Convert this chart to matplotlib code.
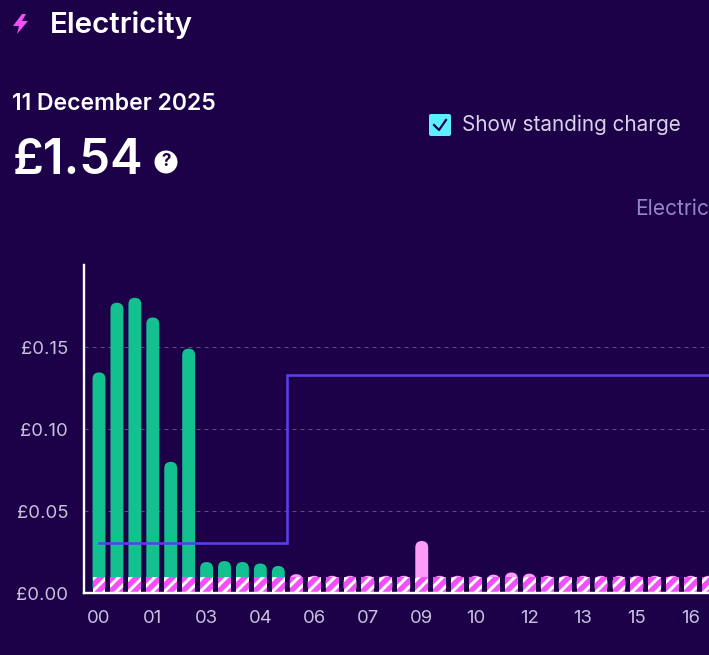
import matplotlib
matplotlib.use('Agg')
from matplotlib import pyplot as plt
from matplotlib.patches import FancyBboxPatch, Polygon, Circle

# half hourly values, 00:00 onwards
usage_cost = [0.1345, 0.177, 0.180, 0.168, 0.080, 0.149, 0.0189, 0.0195, 0.0189, 0.018, 0.0165,
              0.0115, 0.0105, 0.0105, 0.0105, 0.0105, 0.0105, 0.0105, 0.0317, 0.0105, 0.0105,
              0.0105, 0.0112, 0.0125, 0.0118, 0.0105, 0.0105, 0.0105, 0.0105, 0.0105, 0.0105,
              0.0105, 0.0105, 0.0105, 0.0105]
standing_charge = 0.0098
cheap_slots = 11
rate_x = [0, 10.5, 10.5, 35]
rate_y = [0.0305, 0.0305, 0.133, 0.133]
hour_labels = ['00', '01', '03', '04', '06', '07', '09', '10', '12', '13', '15', '16']
price_ticks = [0.0, 0.05, 0.10, 0.15]
price_labels = ['£0.00', '£0.05', '£0.10', '£0.15']

BG = '#1c0048'
GREEN = '#13c08f'
PINK = '#ff9cf8'
STRIPE = '#f050f8'
LINE = '#5840e8'
TEXT = '#ffffff'
SOFT = '#d9d2ea'
TICK = '#c9c1de'

W, H = 709, 655
plt.rcParams['font.family'] = ['Inter', 'DejaVu Sans']
plt.rcParams['hatch.linewidth'] = 3.0

fig = plt.figure(figsize=(W / 72, H / 72), dpi=72, facecolor=BG)

# chart, axes box placed in pixels
left, right, top, bottom = 84, W, 265, 593
ax = fig.add_axes([left / W, 1 - bottom / H, (right - left) / W, (bottom - top) / H], facecolor=BG)
ax.set_xlim((left - 99) / 17.93, (right - 99) / 17.93)
ax.set_ylim(0, 0.2)

ax.hlines(price_ticks[1:], *ax.get_xlim(), colors='#5f4a85', linewidth=1, linestyles=(0, (4, 4)), zorder=1)

bar_w = 0.72
aspect = 17.93 / 1640
for i, v in enumerate(usage_cost):
    colour = GREEN if i < cheap_slots else PINK
    ax.add_patch(FancyBboxPatch((i - bar_w / 2, 0.0), bar_w, v,
                                boxstyle='round,pad=0,rounding_size=0.36', mutation_aspect=aspect,
                                facecolor=colour, edgecolor='none', linewidth=0, zorder=2))

ax.bar(range(len(usage_cost)), standing_charge, width=bar_w, facecolor=STRIPE, edgecolor='white',
       linewidth=0, hatch='//', zorder=3)
ax.plot(rate_x, rate_y, color=LINE, linewidth=2.6, solid_joinstyle='miter', zorder=4)

for s in ['top', 'right']:
    ax.spines[s].set_visible(False)
for s in ['left', 'bottom']:
    ax.spines[s].set_color('white')
    ax.spines[s].set_linewidth(2.4)
    ax.spines[s].set_zorder(5)

ax.set_xticks(range(0, 36, 3))
ax.set_xticklabels(hour_labels)
ax.set_yticks(price_ticks)
ax.set_yticklabels(price_labels)
ax.tick_params(axis='both', length=0, labelcolor=TICK, labelsize=18.5)
ax.tick_params(axis='x', pad=17)
ax.tick_params(axis='y', pad=16)

# header drawn in pixel coordinates
ov = fig.add_axes([0, 0, 1, 1], facecolor='none')
ov.set_xlim(0, W)
ov.set_ylim(H, 0)
ov.axis('off')
ov.set_zorder(10)

ov.add_patch(Polygon([(22, 14), (13, 26), (19, 26), (17, 34), (28, 21), (22, 21), (26, 14)],
                     closed=True, facecolor=STRIPE, edgecolor='none'))
ov.text(50, 25, 'Electricity', color=TEXT, fontsize=29.6, fontweight='semibold', va='center', ha='left')
ov.text(12, 104, '11 December 2025', color=TEXT, fontsize=23, fontweight='semibold', va='center', ha='left')
ov.text(13, 161, '£1.54', color=TEXT, fontsize=49, fontweight='semibold', va='center', ha='left')
ov.add_patch(Circle((166, 162), 11.5, facecolor=TEXT, edgecolor='none'))
ov.text(166, 162, '?', color=BG, fontsize=17, fontweight='bold', va='center', ha='center')

ov.add_patch(FancyBboxPatch((429, 114), 22, 22, boxstyle='round,pad=0,rounding_size=2',
                            facecolor='#5cf0ff', edgecolor='none'))
ov.plot([434, 439, 446], [125, 130, 120], color=BG, linewidth=2.2)
ov.text(462, 125, 'Show standing charge', color=SOFT, fontsize=20.7, va='center', ha='left')
ov.text(635, 209, 'Electricity', color='#9484c8', fontsize=21, va='center', ha='left')

fig.savefig('out.png', dpi=72, facecolor=BG)
